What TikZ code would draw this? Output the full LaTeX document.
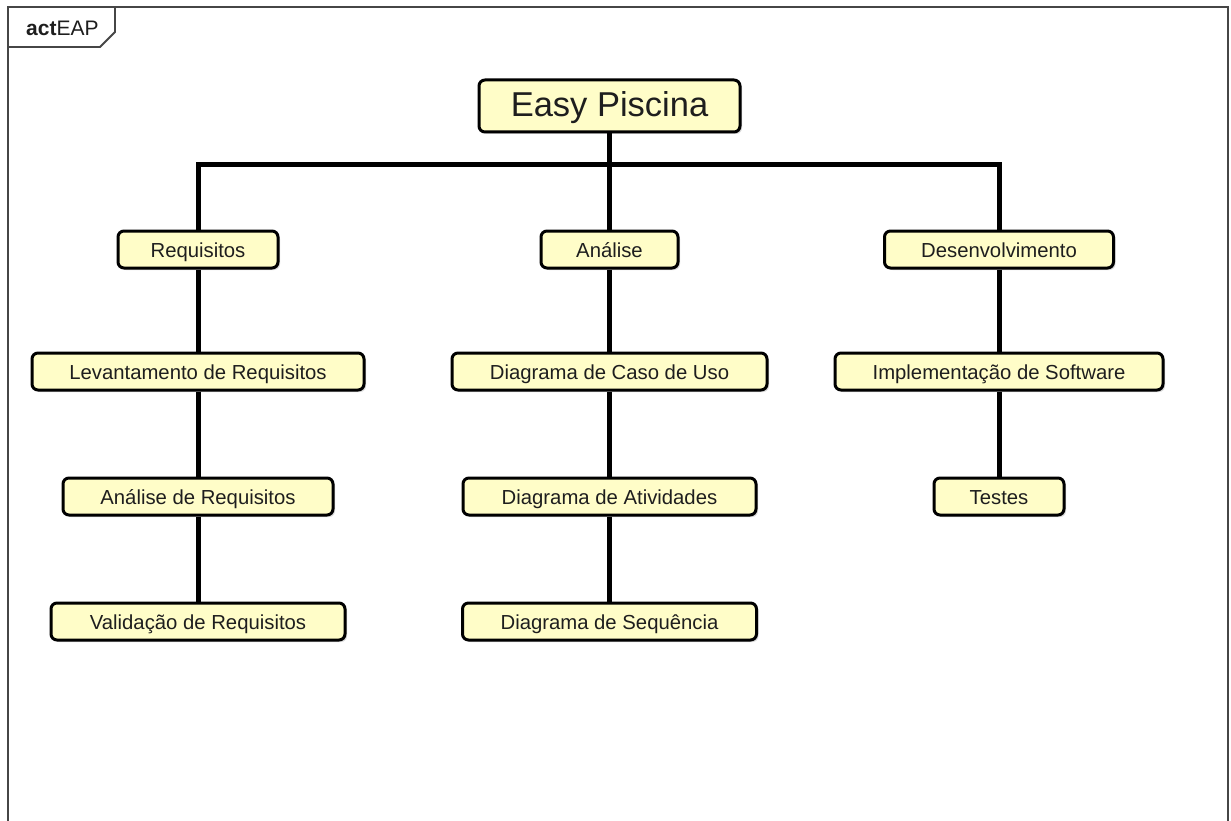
\documentclass[tikz,border=0pt]{standalone}
\usepackage{fontspec}
\setmainfont{Liberation Sans}
\usetikzlibrary{shadows}
\definecolor{boxfill}{RGB}{255,253,200}
\definecolor{framegray}{RGB}{70,70,70}
\definecolor{textdark}{RGB}{30,30,30}
\begin{document}
\begin{tikzpicture}[x=1pt,y=-1pt,
  wbsbox/.style={draw=black, line width=3pt, rounded corners=6pt, fill=boxfill,
    minimum height=37pt, inner sep=0pt, text=textdark,
    font=\fontsize{20.3}{24}\selectfont, text height=18pt, text depth=1.6pt,
    drop shadow={shadow xshift=2pt, shadow yshift=-2pt, fill=black!30, opacity=0.45}},
  rootbox/.style={wbsbox, minimum height=52pt, font=\fontsize{34.5}{40}\selectfont,
    text height=23pt, text depth=2.6pt},
  conn/.style={line width=5pt, black},
  framestyle/.style={draw=framegray, line width=1.8pt}
]
\useasboundingbox[fill=white] (0,0) rectangle (1231,821);

% diagram frame (open at the bottom) and its name tag
\draw[framestyle] (8,821) -- (8,7) -- (1228,7) -- (1228,821);
\draw[framestyle] (8,47) -- (100,47) -- (115,32) -- (115,7);
\node[anchor=base west, inner sep=0pt, text=textdark, font=\fontsize{21}{24}\selectfont] (tag) at (26,36) {\textbf{act}EAP};

% root
\node[rootbox, minimum width=261pt] (root) at (609.5,106) {Easy Piscina};

% first level
\node[wbsbox, minimum width=160pt] (req) at (198,249.5) {Requisitos};
\node[wbsbox, minimum width=137pt] (ana) at (609.5,249.5) {Análise};
\node[wbsbox, minimum width=229pt] (dev) at (999,249.5) {Desenvolvimento};

% second level
\node[wbsbox, minimum width=332pt] (lev) at (198,371.5) {Levantamento de Requisitos};
\node[wbsbox, minimum width=315pt] (dcu) at (609.5,371.5) {Diagrama de Caso de Uso};
\node[wbsbox, minimum width=328pt] (imp) at (999,371.5) {Implementação de Software};

% third level
\node[wbsbox, minimum width=270pt] (ar) at (198,496.5) {Análise de Requisitos};
\node[wbsbox, minimum width=293pt] (dat) at (609.5,496.5) {Diagrama de Atividades};
\node[wbsbox, minimum width=130pt] (tes) at (999,496.5) {Testes};

% fourth level
\node[wbsbox, minimum width=294pt] (val) at (198,621.5) {Validação de Requisitos};
\node[wbsbox, minimum width=294pt] (dse) at (609.5,621.5) {Diagrama de Sequência};

% bus under the root
\coordinate (busL) at (198,165);
\coordinate (busM) at (609.5,165);
\coordinate (busR) at (999,165);
\draw[conn] (root.south) -- (busM);
\draw[conn, line cap=rect] (busL) -- (busR);
\draw[conn] (busL) -- (req.north);
\draw[conn] (busM) -- (ana.north);
\draw[conn] (busR) -- (dev.north);

% columns
\draw[conn] (req.south) -- (lev.north);
\draw[conn] (lev.south) -- (ar.north);
\draw[conn] (ar.south) -- (val.north);
\draw[conn] (ana.south) -- (dcu.north);
\draw[conn] (dcu.south) -- (dat.north);
\draw[conn] (dat.south) -- (dse.north);
\draw[conn] (dev.south) -- (imp.north);
\draw[conn] (imp.south) -- (tes.north);
\end{tikzpicture}
\end{document}
